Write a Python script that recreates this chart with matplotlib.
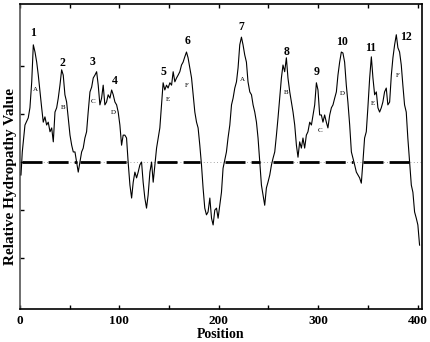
import numpy as np
import matplotlib
matplotlib.use("Agg")
from matplotlib import pyplot as plt

# hydropathy profile
position = [1, 2.3, 5, 8.3, 10, 11.8, 13.4, 15.1, 16.8, 18.4, 20.1, 21.8, 23.4, 25.1, 26.8, 28.4,
            30.2, 31.9, 33.5, 35.2, 36.9, 38.5, 40.2, 41.9, 43.5, 45.2, 46.9, 48.5, 50.3, 52.0,
            53.6, 55.3, 57.0, 58.6, 60.3, 62.0, 63.6, 65.3, 67.0, 68.6, 70.4, 72.1, 73.7, 75.4,
            77.1, 78.7, 80.4, 82.1, 83.7, 85.4, 87.1, 88.7, 90.5, 92.2, 93.8, 95.5, 97.2, 98.8,
            100.5, 102.2, 103.8, 105.5, 107.2, 108.8, 110.6, 112.3, 113.9, 115.6, 117.3, 118.9,
            120.6, 122.3, 123.9, 125.6, 127.3, 128.9, 130.7, 132.4, 134.0, 135.7, 137.4, 139.0,
            140.7, 142.4, 144.0, 145.7, 147.4, 149.0, 150.8, 152.5, 154.1, 155.8, 157.5, 159.1,
            160.8, 162.5, 164.1, 165.8, 167.5, 169.1, 170.9, 172.6, 174.2, 175.9, 177.6, 179.2,
            180.9, 182.6, 184.2, 185.9, 187.6, 189.2, 191.0, 192.7, 194.3, 196.0, 197.7, 199.3,
            201.0, 202.7, 204.3, 206.0, 207.7, 209.3, 211.1, 212.8, 214.4, 216.1, 217.8, 219.4,
            221.1, 222.8, 224.4, 226.1, 227.8, 229.4, 231.2, 232.9, 234.5, 236.2, 237.9, 239.5,
            241.2, 242.9, 244.5, 246.2, 247.9, 249.5, 251.3, 253.0, 254.6, 256.3, 258.0, 259.6,
            261.3, 263.0, 264.6, 266.3, 268.0, 269.6, 271.4, 273.1, 274.7, 276.4, 278.1, 279.7,
            281.4, 283.1, 284.7, 286.4, 288.1, 289.7, 291.5, 293.2, 294.8, 296.5, 298.2, 299.8,
            301.5, 303.2, 304.8, 306.5, 308.2, 309.8, 311.6, 313.3, 314.9, 316.6, 318.3, 319.9,
            321.6, 323.3, 324.9, 326.6, 328.3, 329.9, 331.7, 333.4, 335.0, 336.7, 338.4, 340.0,
            341.7, 343.4, 345.0, 346.7, 348.4, 350.0, 351.8, 353.5, 355.1, 356.8, 358.5, 360.1,
            361.8, 363.5, 365.1, 366.8, 368.5, 370.1, 371.9, 373.6, 375.2, 376.9, 378.6, 380.2,
            381.9, 383.6, 385.2, 386.9, 388.6, 390.2, 392.0, 393.7, 395.3, 397.0, 398.7, 400.3,
            402.0]
hydropathy = [-0.27, 0.21, 0.77, 0.92, 1.13, 1.67, 2.44, 2.29, 2.08, 1.81, 1.46, 1.13, 0.83, 0.94,
              0.77, 0.83, 0.63, 0.71, 0.42, 1.04, 1.13, 1.33, 1.60, 1.92, 1.81, 1.40, 1.25, 0.92,
              0.56, 0.35, 0.21, 0.21, 0.0, -0.21, 0.0, 0.21, 0.29, 0.50, 0.63, 1.04, 1.46, 1.56,
              1.75, 1.81, 1.88, 1.60, 1.19, 1.33, 1.60, 1.19, 1.25, 1.40, 1.33, 1.50, 1.40, 1.25,
              1.19, 1.04, 0.77, 0.35, 0.56, 0.56, 0.50, 0.0, -0.48, -0.75, -0.42, -0.21, -0.33,
              -0.21, -0.06, 0.0, -0.42, -0.75, -0.96, -0.69, -0.21, 0.0, -0.42, -0.06, 0.29, 0.50,
              0.71, 1.19, 1.65, 1.50, 1.60, 1.54, 1.65, 1.60, 1.88, 1.67, 1.75, 1.81, 1.88, 2.02,
              2.08, 2.19, 2.29, 2.17, 1.96, 1.75, 1.40, 1.04, 0.83, 0.71, 0.35, -0.06, -0.54, -0.96,
              -1.10, -1.04, -0.75, -1.17, -1.31, -1.00, -0.96, -1.17, -0.90, -0.63, -0.13, 0.04,
              0.21, 0.50, 0.77, 1.19, 1.33, 1.54, 1.67, 1.96, 2.44, 2.60, 2.44, 2.23, 2.08, 1.67,
              1.46, 1.40, 1.19, 1.04, 0.83, 0.50, 0.0, -0.48, -0.69, -0.90, -0.54, -0.42, -0.27,
              -0.06, 0.08, 0.21, 0.56, 0.92, 1.33, 1.75, 2.02, 1.88, 2.17, 1.75, 1.46, 1.25, 1.04,
              0.77, 0.35, 0.10, 0.42, 0.29, 0.50, 0.29, 0.56, 0.63, 0.83, 0.77, 0.98, 1.19, 1.65,
              1.50, 0.98, 0.98, 0.83, 0.98, 0.83, 0.71, 0.98, 1.13, 1.19, 1.33, 1.46, 1.81, 2.08,
              2.29, 2.27, 2.08, 1.60, 1.25, 0.77, 0.21, 0.08, -0.06, -0.21, -0.27, -0.33, -0.44,
              0.0, 0.50, 0.63, 1.13, 1.75, 2.19, 1.75, 1.40, 1.46, 1.13, 1.04, 1.13, 1.25, 1.46,
              1.54, 1.19, 1.25, 1.81, 2.17, 2.44, 2.65, 2.38, 2.29, 2.02, 1.60, 1.19, 1.04, 0.50,
              0.0, -0.48, -0.63, -1.04, -1.17, -1.31, -1.73]

# numbered helices and lettered segments
helix_labels = ['1', '2', '3', '4', '5', '6', '7', '8', '9', '10', '11', '12']
helix_x = [13.1, 42.2, 73.4, 95.5, 144.7, 168.8, 223.1, 268.3, 298.5, 323.6, 352.8, 387.9]
helix_y = [2.69, 2.06, 2.08, 1.69, 1.88, 2.52, 2.81, 2.29, 1.88, 2.50, 2.38, 2.60]
seg_labels = ['A', 'B', 'C', 'D', 'E', 'F', 'A', 'B', 'C', 'D', 'E', 'F']
seg_x = [15.1, 43.2, 73.4, 93.5, 148.7, 167.8, 224.1, 267.3, 301.5, 324.6, 354.8, 379.9]
seg_y = [1.52, 1.13, 1.25, 1.04, 1.31, 1.60, 1.71, 1.44, 0.65, 1.42, 1.21, 1.81]

position = np.array(position)
hydropathy = np.array(hydropathy)

serif = 'Liberation Serif'

fig = plt.figure(figsize=(4.3, 3.42), dpi=100)
ax = fig.add_axes([0.0465, 0.0965, 0.935, 0.8918])

# thin dotted baseline + thick dashes only where the profile is above zero
ax.axhline(0, color='#888888', lw=0.6, linestyle=(0, (1, 3)), zorder=1)
base = np.where(hydropathy >= 0, 0.0, np.nan)
ax.plot(position, base, color='black', lw=2.0, linestyle=(0, (7.2, 2.2)), zorder=2)

ax.plot(position, hydropathy, color='black', lw=0.8, zorder=3)

for t, x, y in zip(helix_labels, helix_x, helix_y):
    ax.text(x, y, t, ha='center', va='center', fontsize=8.5, fontweight='bold', family=serif)
for t, x, y in zip(seg_labels, seg_x, seg_y):
    ax.text(x, y, t, ha='center', va='center', fontsize=5, family=serif)

ax.set_xlim(0, 404.5)
ax.set_ylim(-3.06, 3.29)
ax.set_xticks(np.arange(0, 401, 50))
ax.set_xticklabels(['0', '', '100', '', '200', '', '300', '', '400'])
ax.set_yticks([-2, -1, 0, 1, 2])
ax.set_yticklabels([])
ax.tick_params(axis='x', direction='in', top=True, length=3, width=1, pad=4)
ax.tick_params(axis='y', direction='in', length=3, width=1)
for lab in ax.get_xticklabels():
    lab.set_family(serif)
    lab.set_fontweight('bold')
    lab.set_fontsize(9.5)
for s in ax.spines.values():
    s.set_linewidth(1.2)
ax.spines['left'].set_color('#555555')

ax.set_xlabel('Position', family=serif, fontweight='bold', fontsize=10, labelpad=1)
ax.set_ylabel('Relative Hydropathy Value', family=serif, fontweight='bold', fontsize=11)
ax.yaxis.set_label_coords(-0.008, 0.436)

fig.savefig('out.png', dpi=100)
